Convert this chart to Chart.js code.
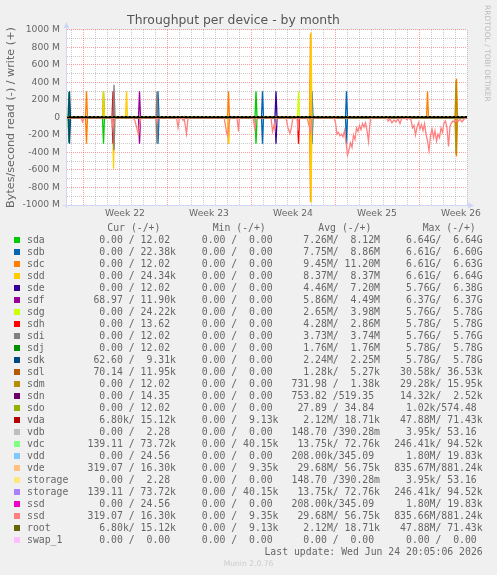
<!DOCTYPE html>
<html>
<head>
<meta charset="utf-8">
<script src="https://cdn.jsdelivr.net/npm/chart.js@4.4.1/dist/chart.umd.min.js"></script>
<style>
  body { margin: 0; background: #f0f0f0; }
  #page { position: relative; width: 497px; height: 575px; overflow: hidden; color: #666; font-family: 'DejaVu Sans Mono', monospace; }
  #chart { position: absolute; left: 0; top: 0; }
  .t { position: absolute; white-space: pre; font-size: 9.8px; line-height: 12px; height: 12px; }
  .sw { position: absolute; width: 6px; height: 6px; }
  #rrd { position: absolute; left: 483px; top: 5px; writing-mode: vertical-rl; font-family: 'DejaVu Sans'; font-size: 7.5px; color: #bbb; white-space: nowrap; }
  #munin { position: absolute; left: 0; width: 497px; top: 558px; text-align: center; font-family: 'DejaVu Sans'; font-size: 7.6px; line-height: 12px; color: #ccc; }
</style>
</head>
<body>
<div id="page">
  <canvas id="chart" width="497" height="224"></canvas>
  <div id="rrd">RRDTOOL / TOBI OETIKER</div>
  <div id="legend"></div>
  <div id="munin">Munin 2.0.76</div>
</div>
<script>
const deviceNames = ['sda', 'sdb', 'sdc', 'sdd', 'sde', 'sdf', 'sdg', 'sdh', 'sdi', 'sdj', 'sdk', 'sdl', 'sdm',
  'sdn', 'sdo', 'vda', 'vdb', 'vdc', 'vdd', 'vde', 'storage', 'storage', 'ssd', 'ssd', 'root', 'swap_1'];
const deviceColors = ['#00CC00', '#0066B3', '#FF8000', '#FFCC00', '#330099', '#990099', '#CCFF00', '#FF0000',
  '#808080', '#008F00', '#00487D', '#B35A00', '#B38F00', '#6B006B', '#8FB300', '#B30000', '#BEBEBE',
  '#80FF80', '#80C9FF', '#FFC080', '#FFE680', '#AA80FF', '#EE00CC', '#FF8080', '#666600', '#FFBFFF'];

// legend columns (read / write)
const curValues = ['  0.00 / 12.02 ', '  0.00 / 22.38k', '  0.00 / 12.02 ', '  0.00 / 24.34k', '  0.00 / 12.02 ',
  ' 68.97 / 11.90k', '  0.00 / 24.22k', '  0.00 / 13.62 ', '  0.00 / 12.02 ', '  0.00 / 12.02 ', ' 62.60 /  9.31k',
  ' 70.14 / 11.95k', '  0.00 / 12.02 ', '  0.00 / 14.35 ', '  0.00 / 12.02 ', '  6.80k/ 15.12k', '  0.00 /  2.28 ',
  '139.11 / 73.72k', '  0.00 / 24.56 ', '319.07 / 16.30k', '  0.00 /  2.28 ', '139.11 / 73.72k', '  0.00 / 24.56 ',
  '319.07 / 16.30k', '  6.80k/ 15.12k', '  0.00 /  0.00 '];
const minValues = ['  0.00 /  0.00 ', '  0.00 /  0.00 ', '  0.00 /  0.00 ', '  0.00 /  0.00 ', '  0.00 /  0.00 ',
  '  0.00 /  0.00 ', '  0.00 /  0.00 ', '  0.00 /  0.00 ', '  0.00 /  0.00 ', '  0.00 /  0.00 ', '  0.00 /  0.00 ',
  '  0.00 /  0.00 ', '  0.00 /  0.00 ', '  0.00 /  0.00 ', '  0.00 /  0.00 ', '  0.00 /  9.13k', '  0.00 /  0.00 ',
  '  0.00 / 40.15k', '  0.00 /  0.00 ', '  0.00 /  9.35k', '  0.00 /  0.00 ', '  0.00 / 40.15k', '  0.00 /  0.00 ',
  '  0.00 /  9.35k', '  0.00 /  9.13k', '  0.00 /  0.00 '];
const avgValues = ['  7.26M/  8.12M', '  7.75M/  8.86M', '  9.45M/ 11.20M', '  8.37M/  8.37M', '  4.46M/  7.20M',
  '  5.86M/  4.49M', '  2.65M/  3.98M', '  4.28M/  2.86M', '  3.73M/  3.74M', '  1.76M/  1.76M', '  2.24M/  2.25M',
  '  1.28k/  5.27k', '731.98 /  1.38k', '753.82 /519.35 ', ' 27.89 / 34.84 ', '  2.12M/ 18.71k', '148.70 /390.28m',
  ' 13.75k/ 72.76k', '208.00k/345.09 ', ' 29.68M/ 56.75k', '148.70 /390.28m', ' 13.75k/ 72.76k', '208.00k/345.09 ',
  ' 29.68M/ 56.75k', '  2.12M/ 18.71k', '  0.00 /  0.00 '];
const maxValues = ['  6.64G/  6.64G', '  6.61G/  6.60G', '  6.61G/  6.63G', '  6.61G/  6.64G', '  5.76G/  6.38G',
  '  6.37G/  6.37G', '  5.76G/  5.78G', '  5.78G/  5.78G', '  5.76G/  5.76G', '  5.78G/  5.78G', '  5.78G/  5.78G',
  ' 30.58k/ 36.53k', ' 29.28k/ 15.95k', ' 14.32k/  2.52k', '  1.02k/574.48 ', ' 47.88M/ 71.43k', '  3.95k/ 53.16 ',
  '246.41k/ 94.52k', '  1.80M/ 19.83k', '835.67M/881.24k', '  3.95k/ 53.16 ', '246.41k/ 94.52k', '  1.80M/ 19.83k',
  '835.66M/881.24k', ' 47.88M/ 71.43k', '  0.00 /  0.00 '];
const lastUpdate = 'Last update: Wed Jun 24 20:05:06 2026';

const weekLabels = ['Week 22', 'Week 23', 'Week 24', 'Week 25', 'Week 26'];
const weekLabelHours = [116, 284, 452, 620, 788];
const weekStartHours = [32, 200, 368, 536, 704];

// throughput in MB/s, x = hours since the left edge of the graph
const sdaWrite = [[0, 0], [71, 0], [73, 300], [75, 0], [376, 0], [378, 300], [380, 0], [800, 0]];
const sdaRead = [[0, 0], [71, 0], [73, -300], [75, 0], [376, 0], [378, -300], [380, 0], [800, 0]];
const sdbWrite = [[0, 0], [180, 0], [182, 300], [184, 0], [389, 0], [391, 300], [393, 0], [488, 0], [490, 300], [492, 0], [557, 0], [559, 300], [561, 0], [800, 0]];
const sdbRead = [[0, 0], [180, 0], [182, -300], [184, 0], [389, 0], [391, -300], [393, 0], [488, 0], [490, -300], [492, 0], [557, 0], [559, -300], [561, 0], [800, 0]];
const sdcWrite = [[0, 0], [37, 0], [39, 300], [41, 0], [321, 0], [323, 300], [325, 0], [485, 0], [487, 960], [489, 0], [719, 0], [721, 300], [723, 0], [777, 0], [779, 445], [781, 0], [800, 0]];
const sdcRead = [[0, 0], [37, 0], [39, -300], [41, 0], [321, 0], [323, -300], [325, 0], [485, 0], [487, -960], [489, 0], [777, 0], [779, -445], [781, 0], [800, 0]];
const sddWrite = [[0, 0], [71, 0], [73, 300], [75, 0], [117, 0], [119, 300], [121, 0], [486, 0], [488, 970], [490, 0], [800, 0]];
const sddRead = [[0, 0], [91, 0], [93, -585], [95, 0], [321, 0], [323, -300], [325, 0], [486, 0], [488, -970], [490, 0], [800, 0]];
const sdeWrite = [[0, 0], [416, 0], [418, 300], [420, 0], [800, 0]];
const sdeRead = [[0, 0], [416, 0], [418, -300], [420, 0], [800, 0]];
const sdfWrite = [[0, 0], [143, 0], [145, 300], [147, 0], [800, 0]];
const sdfRead = [[0, 0], [143, 0], [145, -300], [147, 0], [800, 0]];
const sdgWrite = [[0, 0], [461, 0], [463, 300], [465, 0], [800, 0]];
const sdgRead = [[0, 0], [800, 0]];
const sdhWrite = [[0, 0], [90, 0], [92, 300], [94, 0], [800, 0]];
const sdhRead = [[0, 0], [90, 0], [92, -300], [94, 0], [461, 0], [463, -300], [465, 0], [800, 0]];
const sdiWrite = [[0, 0], [92, 0], [94, 375], [96, 0], [178, 0], [180, 300], [182, 0], [800, 0]];
const sdiRead = [[0, 0], [92, 0], [94, -375], [96, 0], [178, 0], [180, -300], [182, 0], [800, 0]];
const sdjWrite = [[0, 0], [2, 0], [4, 290], [6, 0], [800, 0]];
const sdjRead = [[0, 0], [2, 0], [4, -290], [6, 0], [800, 0]];
const sdkWrite = [[0, 0], [3, 0], [5, 300], [7, 0], [800, 0]];
const sdkRead = [[0, 0], [3, 0], [5, -300], [7, 0], [800, 0]];
const sdmWrite = [[0, 0], [776, 0], [778, 420], [780, 0], [800, 0]];
const sdmRead = [[0, 0], [776, 0], [778, -420], [780, 0], [800, 0]];
const ssdWrite = [[0, 0], [800, 0]];
const ssdRead = [[0, 0], [28, 0], [31, -50], [35, 0], [90, 0], [92, -120], [95, 0],
  [132, 0], [136, -40], [140, -130], [143, -200], [146, -60], [148, 0], [178, 0], [180, -55], [182, 0],
  [219, 0], [222, -115], [225, 0], [230, 0], [232, -30], [234, 0], [239, -185], [242, 0],
  [314, 0], [316, -60], [319, -170], [321, -205], [324, -80], [326, 0], [340, 0], [343, -160], [345, 0],
  [372, 0], [376, -130], [379, 0], [408, 0], [411, -160], [414, -90], [416, -140], [419, 0],
  [438, 0], [442, -120], [446, -180], [449, -110], [452, 0], [460, 0], [462, -150], [464, 0],
  [480, 0], [484, -90], [487, -165], [490, 0],
  [534, 0], [537, -60], [540, -190], [543, -170], [546, -210], [549, -190], [552, -220], [555, -150],
  [558, -280], [561, -430], [564, -370], [567, -290], [570, -340], [573, -200], [576, -250], [579, -120],
  [582, -160], [585, -90], [588, -140], [591, -70], [594, -110], [597, -60], [600, -150], [603, -275],
  [606, -60], [608, 0], [640, 0], [642, -40], [646, -20], [650, -60], [654, -30], [658, -50], [662, -15],
  [666, -70], [670, 0], [676, 0], [680, -25], [684, 0], [688, -30], [691, -120], [694, -90], [697, -200],
  [700, -110], [703, -60], [706, -130], [709, -80], [712, -150], [715, -70], [718, -190], [721, -270],
  [724, -380], [727, -210], [730, -130], [733, -230], [736, -150], [739, -270], [742, -190], [745, -230],
  [748, -120], [751, -170], [754, -60], [757, -40], [760, -120], [763, -330], [766, -100], [769, -60],
  [772, -40], [775, -55], [778, -30], [782, -45], [786, -20], [790, -50], [794, -20], [798, 0], [800, 0]];

// device index -> [read, write]
const traffic = {
  0: [sdaRead, sdaWrite], 1: [sdbRead, sdbWrite], 2: [sdcRead, sdcWrite], 3: [sddRead, sddWrite],
  4: [sdeRead, sdeWrite], 5: [sdfRead, sdfWrite], 6: [sdgRead, sdgWrite], 7: [sdhRead, sdhWrite],
  8: [sdiRead, sdiWrite], 9: [sdjRead, sdjWrite], 10: [sdkRead, sdkWrite], 12: [sdmRead, sdmWrite],
  23: [ssdRead, ssdWrite]
};

const datasets = [];
for (let i = 0; i < deviceNames.length; i++) {
  if (!traffic[i]) continue;
  const parts = ['read', 'write'];
  for (let j = 0; j < 2; j++) {
    datasets.push({
      label: deviceNames[i] + ' ' + parts[j],
      data: traffic[i][j],
      borderColor: deviceColors[i],
      borderWidth: 1.3,
      pointRadius: 0,
      fill: false,
      order: -i
    });
  }
}

// grid positions
const xTickHours = [];
for (let h = 8; h <= 800; h += 12) xTickHours.push(h);
const yTickValues = [];
for (let v = -1000; v <= 1000; v += 100) yTickValues.push(v);

const muninFrame = {
  id: 'muninFrame',
  beforeDraw(chart) {
    const { ctx, chartArea: a } = chart;
    ctx.save();
    ctx.fillStyle = '#ffffff';
    ctx.fillRect(a.left, a.top, a.right - a.left, a.bottom - a.top);
    ctx.restore();
  },
  afterDatasetsDraw(chart) {
    const { ctx, chartArea: a, scales } = chart;
    const y0 = Math.round(scales.y.getPixelForValue(0));
    ctx.save();
    ctx.fillStyle = '#000';
    ctx.fillRect(a.left, y0 - 1, a.right - a.left, 2);
    ctx.strokeStyle = '#666600';
    ctx.lineWidth = 1;
    ctx.setLineDash([2, 2]);
    ctx.beginPath();
    ctx.moveTo(a.left, y0 - 0.5);
    ctx.lineTo(a.right, y0 - 0.5);
    ctx.stroke();
    // axes and arrows
    ctx.setLineDash([]);
    ctx.strokeStyle = '#cfd6f8';
    ctx.fillStyle = '#cfd6f8';
    const ax = Math.round(a.left) - 0.5, ay = Math.round(a.bottom) + 0.5;
    ctx.beginPath();
    ctx.moveTo(ax, ay + 3);
    ctx.lineTo(ax, a.top - 3);
    ctx.moveTo(ax - 4, ay);
    ctx.lineTo(a.right + 2, ay);
    ctx.stroke();
    ctx.beginPath();
    ctx.moveTo(ax, a.top - 8);
    ctx.lineTo(ax - 3, a.top - 2);
    ctx.lineTo(ax + 3, a.top - 2);
    ctx.closePath();
    ctx.fill();
    ctx.beginPath();
    ctx.moveTo(a.right + 7, ay);
    ctx.lineTo(a.right + 1, ay - 3);
    ctx.lineTo(a.right + 1, ay + 3);
    ctx.closePath();
    ctx.fill();
    ctx.restore();
  }
};

const ctx = document.getElementById('chart').getContext('2d');
new Chart(ctx, {
  type: 'line',
  data: { datasets: datasets },
  plugins: [muninFrame],
  options: {
    responsive: false,
    animation: false,
    devicePixelRatio: 1,
    layout: { padding: { left: 0, right: 30, top: 0, bottom: 0 } },
    plugins: {
      legend: { display: false },
      tooltip: { enabled: false },
      title: {
        display: true,
        text: 'Throughput per device - by month',
        color: '#555',
        font: { family: 'DejaVu Sans', size: 12.4, weight: 'normal' },
        padding: { top: 13.5, bottom: 1.6 }
      }
    },
    scales: {
      x: {
        type: 'linear',
        min: 0,
        max: 800,
        afterBuildTicks: (scale) => { scale.ticks = xTickHours.map(v => ({ value: v })); },
        afterFit: (scale) => { scale.height = 19; },
        border: { display: false, dash: [1, 1] },
        grid: {
          drawTicks: false,
          color: (c) => {
            const v = c.tick.value;
            if (weekStartHours.includes(v)) return 'rgba(255,95,95,0.6)';
            if ((v - 8) % 24 === 0) return 'rgba(140,140,140,0.45)';
            return 'rgba(0,0,0,0)';
          }
        },
        ticks: {
          autoSkip: false,
          maxRotation: 0,
          minRotation: 0,
          padding: 3.5,
          color: '#666',
          font: { family: 'DejaVu Sans', size: 9.2 },
          callback: (v) => {
            const k = weekLabelHours.indexOf(v);
            return k >= 0 ? weekLabels[k] : '';
          }
        }
      },
      y: {
        min: -1000,
        max: 1000,
        afterBuildTicks: (scale) => { scale.ticks = yTickValues.map(v => ({ value: v })); },
        afterFit: (scale) => { scale.width = 67; },
        border: { display: false, dash: [1, 1] },
        grid: {
          drawTicks: false,
          color: (c) => c.tick.value % 200 === 0 ? 'rgba(255,95,95,0.6)' : 'rgba(140,140,140,0.45)'
        },
        title: {
          display: true,
          text: 'Bytes/second read (-) / write (+)',
          color: '#666',
          font: { family: 'DejaVu Sans', size: 11.2 },
          padding: { top: 4, bottom: 0 }
        },
        ticks: {
          autoSkip: false,
          padding: 7,
          color: '#666',
          font: { family: 'DejaVu Sans', size: 9.2 },
          callback: (v) => {
            if (v % 200 !== 0) return '';
            return v === 0 ? '0' : v + ' M';
          }
        }
      }
    }
  }
});

// legend table
const legend = document.getElementById('legend');
function addText(text, left, centerY, extra) {
  const d = document.createElement('div');
  d.className = 't';
  d.textContent = text;
  d.style.left = left + 'px';
  d.style.top = (centerY - 6) + 'px';
  if (extra) Object.assign(d.style, extra);
  legend.appendChild(d);
}
const headerY = 227.7;
addText('Cur (-/+)', 107.3, headerY);
addText('Min (-/+)', 212.7, headerY);
addText('Avg (-/+)', 318.3, headerY);
addText('Max (-/+)', 422.7, headerY);
for (let i = 0; i < deviceNames.length; i++) {
  const cy = 239.7 + 12 * i;
  const sw = document.createElement('div');
  sw.className = 'sw';
  sw.style.left = '14px';
  sw.style.top = (cy - 3) + 'px';
  sw.style.background = deviceColors[i];
  legend.appendChild(sw);
  addText(deviceNames[i], 27, cy);
  addText(curValues[i], 87.5, cy);
  addText(minValues[i], 190, cy);
  addText(avgValues[i], 291.5, cy);
  addText(maxValues[i], 394.2, cy);
}
addText(lastUpdate, 0, 551.7, { left: 'auto', right: (497 - 482.7) + 'px' });
</script>
</body>
</html>
